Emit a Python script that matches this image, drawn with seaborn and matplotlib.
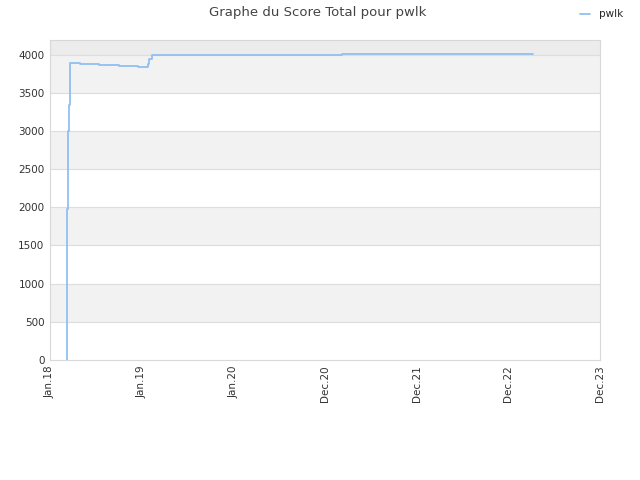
import pandas as pd
import numpy as np
import seaborn as sns
import matplotlib
import matplotlib.pyplot as plt
import matplotlib.dates as mdates
matplotlib.use("agg")

# data
dates = ["2018-03-17", "2018-03-18", "2018-03-21", "2018-03-26", "2018-03-30",
         "2018-05-08", "2018-07-22", "2018-10-09", "2018-12-23", "2019-01-30",
         "2019-02-05", "2019-02-15", "2021-03-07", "2023-03-29"]
scores = [0, 1980, 3000, 3340, 3886,
          3876, 3863, 3850, 3833, 3880,
          3940, 3995, 4008, 4008]
tick_dates = ["2018-01-10", "2019-01-06", "2020-01-02", "2020-12-29",
              "2021-12-25", "2022-12-21", "2023-12-18"]

df = pd.DataFrame({"date": pd.to_datetime(dates), "score": scores})

sns.set_style("white")
plt.rcParams['font.family'] = ['DejaVu Sans']

fig = plt.figure(figsize=(6.4, 4.8), dpi=100)
ax = fig.add_axes([50/640, 120/480, 550/640, 320/480])

# alternating bands
for lo in [500, 1500, 2500, 3500]:
    ax.axhspan(lo, lo + 500, color='#f2f2f2', zorder=0, lw=0)
ax.axhspan(4000, 4200, color='#ececec', zorder=0, lw=0)
for y in range(500, 4001, 500):
    ax.axhline(y, color='#dddddd', lw=0.8, zorder=1)

sns.lineplot(data=df, x="date", y="score", ax=ax, color='#90c0f2',
             linewidth=1.3, drawstyle='steps-post', label='pwlk', zorder=3)

ax.set_ylim(0, 4190)
ax.set_xlim(pd.Timestamp(tick_dates[0]), pd.Timestamp(tick_dates[-1]))
ax.set_yticks(range(0, 4001, 500))
ax.set_xticks(pd.to_datetime(tick_dates))
ax.xaxis.set_major_formatter(mdates.DateFormatter('%b.%y'))
ax.tick_params(axis='both', length=0, labelsize=7.5, colors='#333333', pad=4)
plt.setp(ax.get_xticklabels(), rotation=90)
ax.set_xlabel('')
ax.set_ylabel('')
for s in ax.spines.values():
    s.set_color('#d8d8d8')
    s.set_linewidth(0.8)

fig.suptitle('Graphe du Score Total pour pwlk', x=0.497, y=0.988,
             fontsize=9.5, color='#444444')
ax.legend(loc='upper right', bbox_to_anchor=(0.988, 1.0), bbox_transform=fig.transFigure,
          frameon=False, fontsize=7.5, handlelength=1.0, handletextpad=0.8)

plt.savefig('out.png', dpi=100)
plt.close()
